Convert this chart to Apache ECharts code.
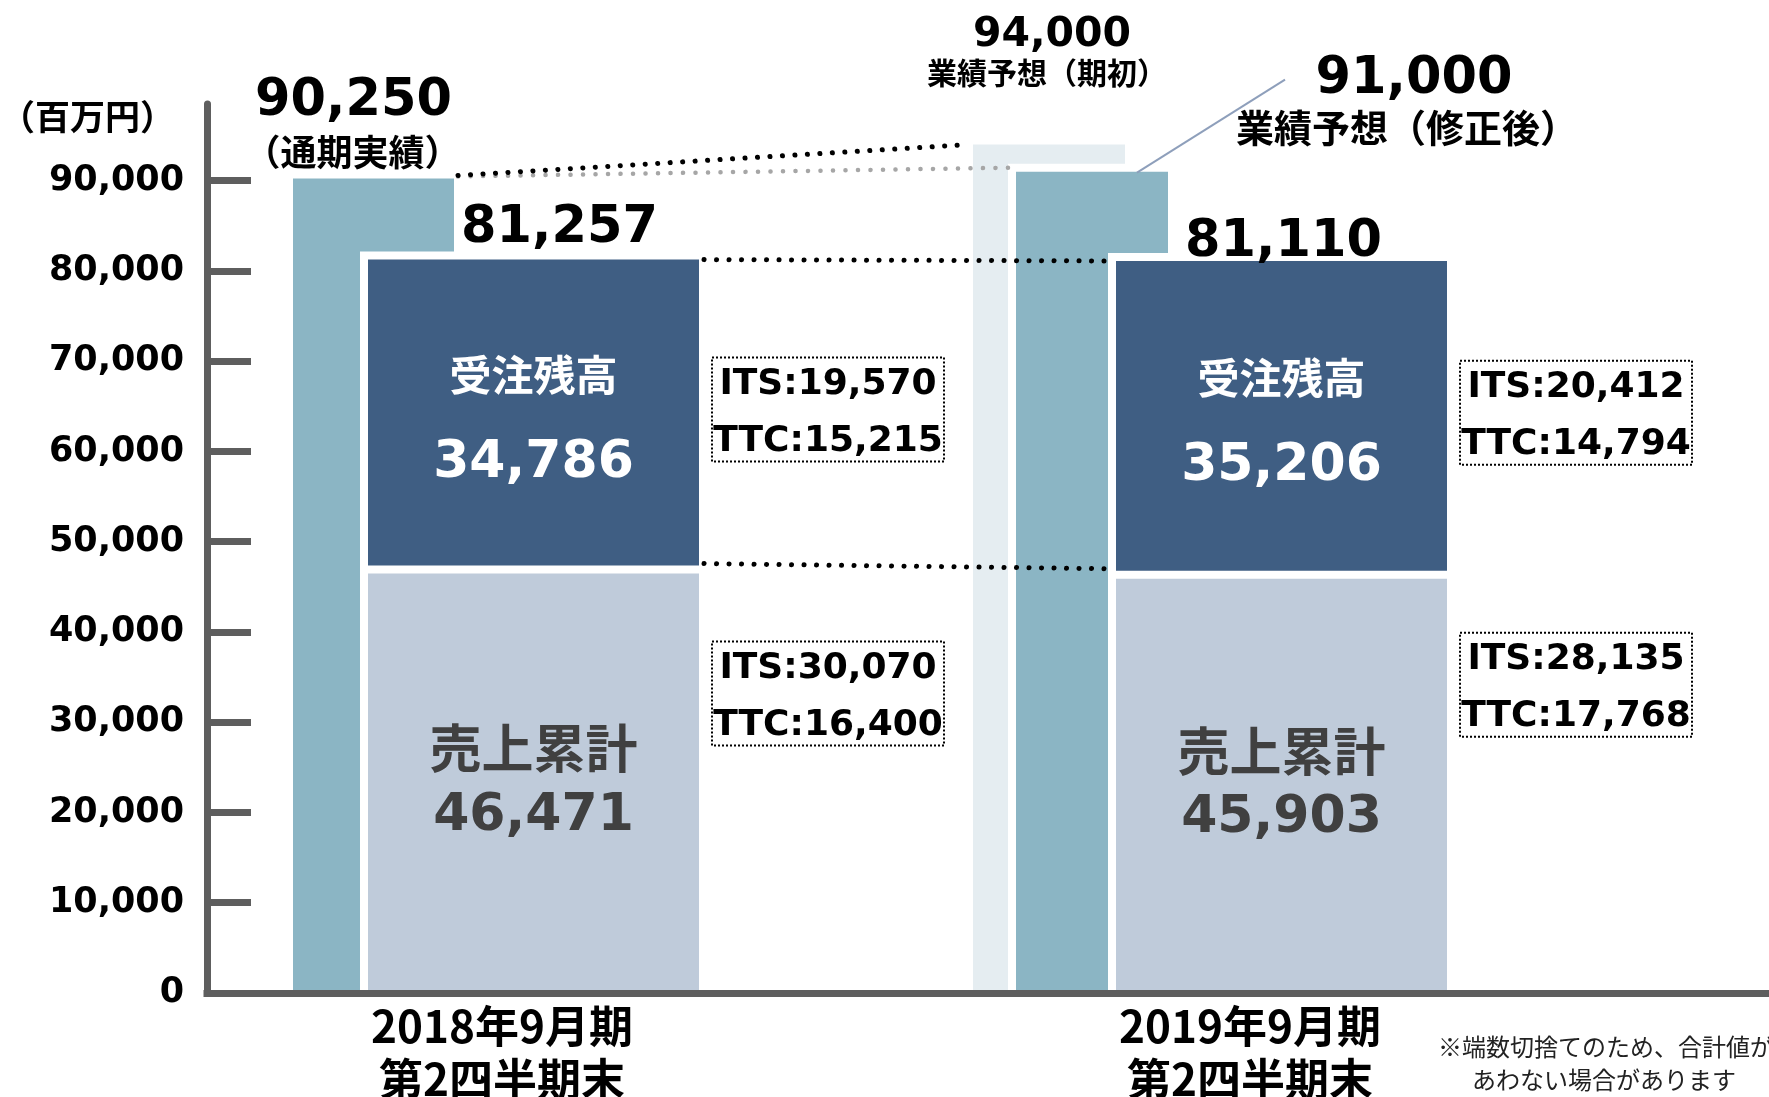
<!doctype html>
<html>
<head>
<meta charset="utf-8">
<title>受注残高・売上累計</title>
<script src="https://cdn.jsdelivr.net/npm/echarts@6/dist/echarts.min.js"></script>
<style>
    body{margin:0;background:#fff;}
    #main{width:1769px;height:1097px;}
</style>
</head>
<body>
<div id="main"></div>
<script>
    // データ（百万円）
    var categories = ['2018年9月期\n第2四半期末', '2019年9月期\n第2四半期末'];
    var segmentNames = ['売上累計', '受注残高'];
    var salesTotal = [46471, 45903];
    var backlog = [34786, 35206];
    var orderTotal = [81257, 81110];
    var fullYear = [90250, 91000];
    var fullYearNote = ['（通期実績）', '業績予想（修正後）'];
    var initialForecast = [null, 94000];
    var initialForecastNote = '業績予想（期初）';
    var itsBacklog = [19570, 20412];
    var ttcBacklog = [15215, 14794];
    var itsSales = [30070, 28135];
    var ttcSales = [16400, 17768];
    var yTicks = [0, 10000, 20000, 30000, 40000, 50000, 60000, 70000, 80000, 90000];
    var yMax = 98500;

    // 棒の横位置（カテゴリ中心からのpx）
    var FORECAST_X = [-277, -125];
    var FULLYEAR_X = [[-209, -48], [-234, -82]];
    var STACK_X = [-134, 197];
    var TOTAL_OFF = [[26, -31], [2, -18]];
    var SALES_BOX_OFF = [120, 106];
    var HALO = 8;

    var NUM = '"DejaVu Sans", "Noto Sans CJK JP", sans-serif';
    var JP = '"Noto Sans CJK JP", sans-serif';
    function font(size, fam, weight) { return (weight || 'bold') + ' ' + size + 'px ' + fam; }
    function fmt(v) { return v.toLocaleString('en-US'); }

    function rect(x0, y0, x1, y1, color) {
        return {type: 'rect', shape: {x: x0, y: y0, width: x1 - x0, height: y1 - y0}, style: {fill: color}};
    }
    function halo(x0, y0, x1, y1) {
        return rect(x0 - HALO, y0 - HALO, x1 + HALO, y1, '#fff');
    }
    function text(str, x, y, f, color) {
        return {type: 'text', style: {text: str, x: x, y: y, font: f, fill: color || '#000', align: 'center', verticalAlign: 'middle'}};
    }
    function box(left, cy, l1, l2) {
        return [
            {type: 'rect', shape: {x: left, y: cy - 52, width: 232, height: 104},
             style: {fill: 'none', stroke: '#000', lineWidth: 2, lineDash: [2, 2]}},
            text(l1, left + 116, cy - 25, font(36, NUM)),
            text(l2, left + 116, cy + 32, font(36, NUM))
        ];
    }
    function dotted(xa, ya, xb, yb, color, w) {
        return {type: 'line', shape: {x1: xa, y1: ya, x2: xb, y2: yb},
                style: {stroke: color, lineWidth: w, lineDash: [0.1, 12.4], lineCap: 'round'}};
    }

    function renderForecast(params, api) {
        var i = api.value(0), v = api.value(1);
        if (v == null || isNaN(v)) return null;
        var p0 = api.coord([i, 0]), p1 = api.coord([i, v]);
        var x0 = p0[0] + FORECAST_X[0], x1 = p0[0] + FORECAST_X[1], cx = (x0 + x1) / 2;
        return {type: 'group', children: [
            rect(x0, p1[1], x1, p0[1], '#E5EDF1'),
            text(fmt(v), cx + 3, p1[1] - 109, font(41, NUM)),
            text(initialForecastNote, cx - 2, p1[1] - 72, font(30, JP))
        ]};
    }

    function renderFullYear(params, api) {
        var i = api.value(0), v = api.value(1);
        var p0 = api.coord([i, 0]), p1 = api.coord([i, v]);
        var x0 = p0[0] + FULLYEAR_X[i][0], x1 = p0[0] + FULLYEAR_X[i][1], cx = (x0 + x1) / 2;
        var top = p1[1];
        var kids = [halo(x0, top, x1, p0[1]), rect(x0, top, x1, p0[1], '#8BB5C4')];
        if (initialForecast[i] != null) {
            kids.push({type: 'line', shape: {x1: cx + 45, y1: top + 1, x2: cx + 193, y2: top - 92},
                       style: {stroke: '#8E9FBB', lineWidth: 2}});
            kids.push(text(fmt(v), cx + 322, top - 92, font(51, NUM)));
            kids.push(text(fullYearNote[i], cx + 315, top - 44, font(38, JP)));
        } else {
            kids.push(text(fmt(v), cx - 20, top - 77, font(51, NUM)));
            kids.push(text(fullYearNote[i], cx - 21, top - 26, font(36, JP)));
        }
        return {type: 'group', children: kids};
    }

    function renderStack(params, api) {
        var i = api.value(0);
        var c = api.coord([i, 0]);
        var yb = c[1];
        var ys = api.coord([i, api.value(1)])[1];
        var yt = api.coord([i, api.value(2)])[1];
        var x0 = c[0] + STACK_X[0], x1 = c[0] + STACK_X[1], cx = (x0 + x1) / 2;
        var bm = (yt + ys - HALO) / 2, sm = (ys + yb) / 2;
        var kids = [
            halo(x0, yt, x1, ys), rect(x0, yt, x1, ys, '#3F5E83'),
            halo(x0, ys, x1, yb), rect(x0, ys, x1, yb, '#BFCBDA'),
            text(segmentNames[1], cx, bm - 38, font(42, JP), '#fff'),
            text(fmt(backlog[i]), cx, bm + 51, font(52, NUM), '#fff'),
            text(segmentNames[0], cx, sm - 35, font(52, JP), '#404040'),
            text(fmt(salesTotal[i]), cx, sm + 33, font(52, NUM), '#404040'),
            text(fmt(orderTotal[i]), cx + TOTAL_OFF[i][0], yt + TOTAL_OFF[i][1], font(51, NUM))
        ];
        kids = kids.concat(box(x1 + 13, bm - 3, 'ITS:' + fmt(itsBacklog[i]), 'TTC:' + fmt(ttcBacklog[i])));
        kids = kids.concat(box(x1 + 13, ys + SALES_BOX_OFF[i], 'ITS:' + fmt(itsSales[i]), 'TTC:' + fmt(ttcSales[i])));
        return {type: 'group', children: kids};
    }

    // 前年同期との比較線
    function renderLinks(params, api) {
        if (api.value(0) !== 1) return null;
        var c0 = api.coord([0, 0])[0], c1 = api.coord([1, 0])[0];
        function y(i, v) { return api.coord([i, v])[1]; }
        return {type: 'group', children: [
            dotted(c0 + FULLYEAR_X[0][1] + 4, y(0, fullYear[0]) - 2, c1 + FULLYEAR_X[1][0] - HALO, y(1, fullYear[1]) - 4, '#A6A6A6', 4.5),
            dotted(c0 + FULLYEAR_X[0][1] + 4, y(0, fullYear[0]) - 3, c1 + FORECAST_X[0] - 5, y(1, initialForecast[1]), '#000', 5),
            dotted(c0 + STACK_X[1] + 5, y(0, orderTotal[0]), c1 + STACK_X[0] - HALO - 4, y(1, orderTotal[1]), '#000', 5),
            dotted(c0 + STACK_X[1] + 5, y(0, salesTotal[0]) - HALO - 2, c1 + STACK_X[0] - HALO - 4, y(1, salesTotal[1]) - HALO - 2, '#000', 5)
        ]};
    }

    var idx = categories.map(function (c, i) { return i; });

    var myChart = echarts.init(document.getElementById('main'));
    var option = {
        animation: false,
        backgroundColor: '#fff',
        grid: [
            {left: 207, right: 0, top: 104, bottom: 104, outerBoundsMode: 'none'},
            {left: 128, right: 145, top: 104, bottom: 104, outerBoundsMode: 'none'}
        ],
        xAxis: [
            {gridIndex: 0, type: 'value', min: 0, max: 1, z: 10,
             axisLine: {show: true, lineStyle: {color: '#5E5E5E', width: 7, cap: 'square'}},
             axisTick: {show: false}, axisLabel: {show: false}, splitLine: {show: false}},
            {gridIndex: 1, type: 'category', data: categories,
             axisLine: {show: false}, axisTick: {show: false},
             axisLabel: {interval: 0, margin: 7, color: '#000', fontSize: 44, lineHeight: 53,
                         fontWeight: 'bold', fontFamily: JP}}
        ],
        yAxis: [
            {gridIndex: 0, type: 'value', min: 0, max: yMax, interval: 10000, z: 5,
             axisLine: {show: true, lineStyle: {color: '#5E5E5E', width: 7}},
             axisTick: {show: true, inside: true, length: 44, customValues: yTicks,
                        lineStyle: {color: '#5E5E5E', width: 7}},
             axisLabel: {margin: 23, color: '#000', fontSize: 35, fontWeight: 'bold', fontFamily: NUM,
                         customValues: yTicks, formatter: function (v) { return fmt(v); }},
             splitLine: {show: false}},
            {gridIndex: 1, type: 'value', min: 0, max: yMax, show: false}
        ],
        graphic: [
            {type: 'text', left: 0, top: 99, style: {text: '（百万円）', font: font(35, JP), fill: '#000'}},
            {type: 'text', left: 1438, top: 1035, style: {text: '※端数切捨てのため、合計値が', font: font(24, JP, 'normal'), fill: '#222'}},
            {type: 'text', left: 1472, top: 1068, style: {text: 'あわない場合があります', font: font(24, JP, 'normal'), fill: '#222'}}
        ],
        series: [
            {type: 'custom', name: initialForecastNote, xAxisIndex: 1, yAxisIndex: 1, z: 1,
             renderItem: renderForecast,
             data: idx.map(function (i) { return [i, initialForecast[i] == null ? '-' : initialForecast[i]]; })},
            {type: 'custom', name: '通期', xAxisIndex: 1, yAxisIndex: 1, z: 2,
             renderItem: renderFullYear,
             data: idx.map(function (i) { return [i, fullYear[i]]; })},
            {type: 'custom', name: '売上・受注残', xAxisIndex: 1, yAxisIndex: 1, z: 3,
             renderItem: renderStack,
             data: idx.map(function (i) { return [i, salesTotal[i], orderTotal[i]]; })},
            {type: 'custom', name: 'links', xAxisIndex: 1, yAxisIndex: 1, z: 4,
             renderItem: renderLinks,
             data: idx.map(function (i) { return [i]; })}
        ]
    };
    myChart.setOption(option);
</script>
</body>
</html>
